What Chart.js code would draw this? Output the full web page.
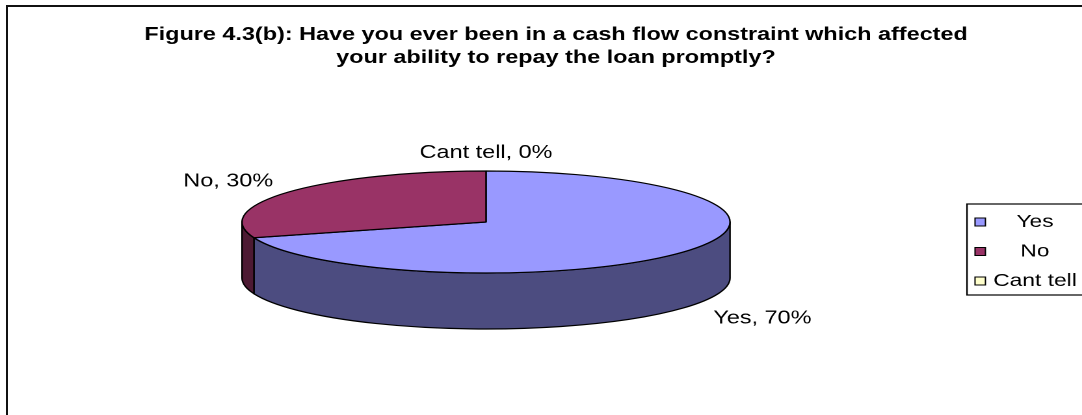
<!DOCTYPE html>
<html>
<head>
<meta charset="utf-8">
<title>Figure 4.3(b)</title>
<script src="https://cdn.jsdelivr.net/npm/chart.js@4.4.0/dist/chart.umd.min.js"></script>
<style>
  html, body { margin: 0; padding: 0; background: #fff; overflow: hidden; }
  #frame {
    position: absolute; left: 6px; top: 5px;
    width: 1200px; height: 600px;
    border: 2px solid #111;
  }
  /* the original picture is stretched sideways, so the chart is drawn narrow and scaled out */
  #wrap {
    position: absolute; left: 0; top: 0;
    width: 832px; height: 415px;
    transform: scaleX(1.3005); transform-origin: 0 0;
  }
</style>
</head>
<body>
<div id="frame"></div>
<div id="wrap"><canvas id="pieChart"></canvas></div>
<script>
// -------- Data --------
const categories = ["Yes", "No", "Cant tell"];
const percentages = [70, 30, 0];
const topColors = ["#9999FF", "#993366", "#FFFFCC"];
const sideColors = ["#4C4C80", "#4D1A33", "#808066"];
const titleLines = [
  "Figure 4.3(b): Have you ever been in a cash flow constraint which affected",
  "your ability to repay the loan promptly?"
];

// -------- Layout --------
const W = 832, H = 415;
const S = 1082 / W;            // horizontal stretch of the wrapper
const R = 244 / S;             // pie radius before stretch
const CX = 486 / S, CY = 222;  // pie centre
const TILT = 51 / R;           // ellipse height / width
const DEPTH = 56 / R;          // side wall height
const FONT = 'Arial, "Liberation Sans", sans-serif';

function frontParts(a1, a2){
  const TAU = Math.PI * 2;
  const k = Math.floor(a1 / TAU);
  a1 -= k * TAU; a2 -= k * TAU;
  const parts = [];
  [[0, Math.PI], [TAU, TAU + Math.PI]].forEach(([lo, hi]) => {
    const s = Math.max(a1, lo), e = Math.min(a2, hi);
    if (e - s > 1e-6) parts.push([s, e]);
  });
  return parts;
}

const pie3d = {
  id: "pie3d",
  beforeDatasetsDraw(chart){
    const ctx = chart.ctx;
    const arcs = chart.getDatasetMeta(0).data;
    if (!arcs.length) return false;
    const cx = arcs[0].x, cy = arcs[0].y, rx = arcs[0].outerRadius;
    const ry = rx * TILT, depth = rx * DEPTH;
    ctx.save();
    ctx.lineWidth = 1.2;
    ctx.lineJoin = "round";
    ctx.strokeStyle = "#000";
    // side walls (front half only)
    arcs.forEach((arc, i) => {
      frontParts(arc.startAngle, arc.endAngle).forEach(([s, e]) => {
        ctx.beginPath();
        ctx.ellipse(cx, cy, rx, ry, 0, s, e, false);
        ctx.ellipse(cx, cy + depth, rx, ry, 0, e, s, true);
        ctx.closePath();
        ctx.fillStyle = sideColors[i];
        ctx.fill();
        ctx.stroke();
      });
    });
    // top faces
    arcs.forEach((arc, i) => {
      if (arc.endAngle - arc.startAngle < 1e-6) return;
      ctx.beginPath();
      ctx.moveTo(cx, cy);
      ctx.ellipse(cx, cy, rx, ry, 0, arc.startAngle, arc.endAngle, false);
      ctx.closePath();
      ctx.fillStyle = topColors[i];
      ctx.fill();
      ctx.stroke();
    });
    // data labels
    ctx.fillStyle = "#000";
    ctx.font = "18px " + FONT;
    ctx.textBaseline = "middle";
    arcs.forEach((arc, i) => {
      const m = (arc.startAngle + arc.endAngle) / 2;
      const c = Math.cos(m), s = Math.sin(m);
      const ax = cx + rx * 1.115 * c + (9 / S) * Math.abs(c);
      const ay = cy + (ry + 18) * s + (s > 0.05 ? depth : 0);
      ctx.textAlign = Math.abs(c) < 0.2 ? "center" : (c < 0 ? "right" : "left");
      ctx.fillText(categories[i] + ", " + percentages[i] + "%", ax, ay);
    });
    ctx.restore();
    return false;
  },
  afterDraw(chart){
    const ctx = chart.ctx;
    ctx.save();
    // title
    ctx.fillStyle = "#000";
    ctx.font = "bold 18px " + FONT;
    ctx.textAlign = "center";
    ctx.textBaseline = "alphabetic";
    titleLines.forEach((t, i) => ctx.fillText(t, 556 / S, 40 + i * 23));
    // legend
    ctx.strokeStyle = "#000";
    ctx.lineWidth = 1.2;
    ctx.strokeRect(967 / S, 204, 200, 91);
    ctx.font = "17.5px " + FONT;
    ctx.textBaseline = "middle";
    categories.forEach((c, i) => {
      const y = 222 + i * 29.5;
      ctx.fillStyle = topColors[i];
      ctx.fillRect(975 / S, y - 4, 8, 8);
      ctx.lineWidth = 1;
      ctx.strokeRect(975 / S, y - 4, 8, 8);
      ctx.fillStyle = "#000";
      ctx.fillText(c, 1035 / S, y);
    });
    ctx.restore();
  }
};

new Chart(document.getElementById("pieChart"), {
  type: "pie",
  data: {
    labels: categories,
    datasets: [{
      data: percentages,
      backgroundColor: topColors,
      borderWidth: 0,
      offset: 0,
      hoverOffset: 0
    }]
  },
  options: {
    responsive: true,
    maintainAspectRatio: false,
    animation: false,
    devicePixelRatio: 2,
    events: [],
    layout: {
      padding: { left: CX - R, right: W - CX - R, top: CY - R, bottom: H - CY - R }
    },
    plugins: {
      legend: { display: false },
      title: { display: false },
      tooltip: { enabled: false }
    }
  },
  plugins: [pie3d]
});
</script>
</body>
</html>
